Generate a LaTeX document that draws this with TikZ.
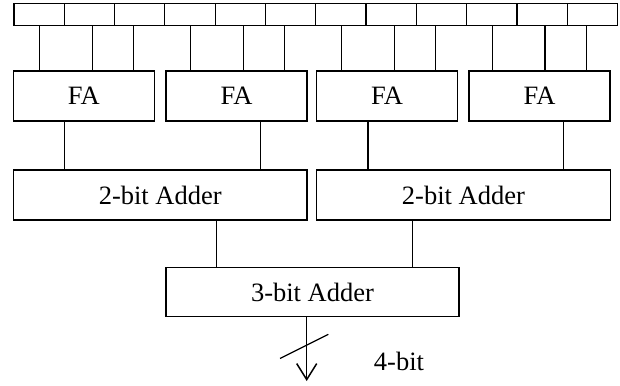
\documentclass[tikz,border=0pt]{standalone}
\usepackage{fontspec}
\setmainfont{Liberation Serif}
\usetikzlibrary{arrows.meta,calc}
\begin{document}
\begin{tikzpicture}[x=1pt,y=-1pt,
  cell/.style={draw,line width=1.2pt,minimum width=50.3pt,minimum height=22pt,inner sep=0pt,anchor=north west},
  blk/.style={draw,line width=1.2pt,inner sep=0pt,font=\fontsize{26.5}{30}\selectfont},
  wire/.style={line width=1.3pt}]
\useasboundingbox (0,0) rectangle (620,385);
% input cells
\foreach \i in {0,...,11}{
  \node[cell] (c\i) at ({13.3+50.3*\i},3) {};
}
% FA blocks
\node[blk,minimum width=141pt,minimum height=50pt] (fa1) at (83.8,96) {FA};
\node[blk,minimum width=141pt,minimum height=50pt] (fa2) at (236.5,96) {FA};
\node[blk,minimum width=141pt,minimum height=50pt] (fa3) at (387,96) {FA};
\node[blk,minimum width=141pt,minimum height=50pt] (fa4) at (539.5,96) {FA};
% 2-bit adders
\node[blk,minimum width=293.5pt,minimum height=50pt] (ad1) at (160.2,195) {2-bit Adder};
\node[blk,minimum width=293.5pt,minimum height=50pt] (ad2) at (463.4,195) {2-bit Adder};
% 3-bit adder
\node[blk,minimum width=293pt,minimum height=49.5pt] (ad3) at (312.5,292) {3-bit Adder};
% cell to FA wires
\foreach \k/\f in {0/fa1,3/fa2,6/fa3,9/fa4}{
  \pgfmathtruncatemacro{\a}{\k}
  \pgfmathtruncatemacro{\b}{\k+1}
  \pgfmathtruncatemacro{\c}{\k+2}
  \draw[wire] ([xshift=0.5pt]c\a.south) -- ([xshift=0.5pt]c\a.south |- \f.north);
  \draw[wire] ([xshift=3pt]c\b.south) -- ([xshift=3pt]c\b.south |- \f.north);
  \draw[wire] ([xshift=-6pt]c\c.south) -- ([xshift=-6pt]c\c.south |- \f.north);
}
% FA to 2-bit wires
\draw[wire] ([xshift=-19.5pt]fa1.south) -- ([xshift=-19.5pt]fa1.south |- ad1.north);
\draw[wire] ([xshift=23.7pt]fa2.south) -- ([xshift=23.7pt]fa2.south |- ad1.north);
\draw[wire] ([xshift=-19pt]fa3.south) -- ([xshift=-19pt]fa3.south |- ad2.north);
\draw[wire] ([xshift=24pt]fa4.south) -- ([xshift=24pt]fa4.south |- ad2.north);
% 2-bit to 3-bit wires
\draw[wire] ([xshift=56.4pt]ad1.south) -- ([xshift=56.4pt]ad1.south |- ad3.north);
\draw[wire] ([xshift=-51pt]ad2.south) -- ([xshift=-51pt]ad2.south |- ad3.north);
% output
\coordinate (out) at (306.7,381);
\draw[wire,-{Straight Barb[length=16pt,width=20pt,line width=1.5pt]}] ([xshift=-5.8pt]ad3.south) -- (out);
\coordinate (s1) at (280,358.5);
\coordinate (s2) at (328.3,334.3);
\draw[line width=1.2pt] (s1) -- (s2);
\node[font=\fontsize{26.5}{30}\selectfont,inner sep=0pt] (lbl) at (399,361.5) {4-bit};
\end{tikzpicture}
\end{document}
